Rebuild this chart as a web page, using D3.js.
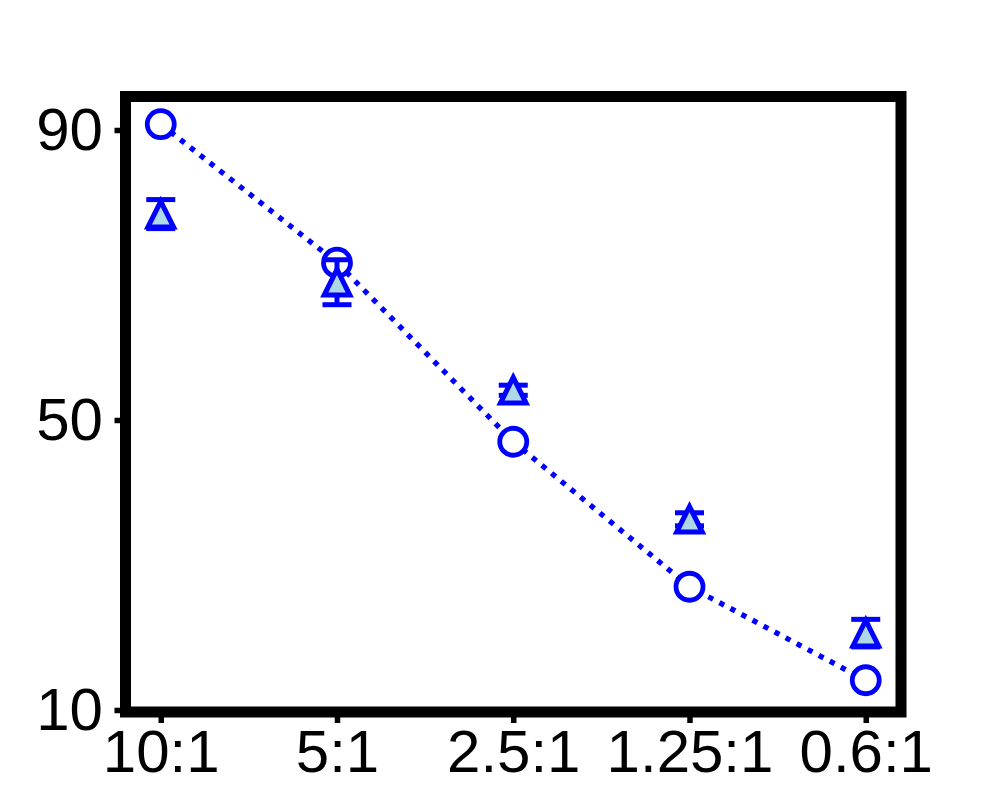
<!DOCTYPE html>
<html><head><meta charset="utf-8">
<script src="https://cdn.jsdelivr.net/npm/d3@7"></script>
<style>body{margin:0;background:#fff}</style>
</head><body>
<svg id="c" width="1000" height="800"></svg>
<script>
const categories = ["10:1", "5:1", "2.5:1", "1.25:1", "0.6:1"];
const circleValues = [90.8, 71.7, 47.0, 27.0, 14.1];
const triangleValues = [78.4, 69.0, 54.1, 36.3, 20.6];
const triangleErrors = [2.0, 3.1, 0.7, 0.9, 1.9];
const yTicks = [10, 50, 90];

const svg = d3.select("#c");
const L = 125.5, R = 901, T = 96.5, B = 712;
const x = d3.scalePoint().domain(categories).range([L, R]).padding(0.2);
const y = d3.scaleLinear().domain([9.72, 94.62]).range([B, T]);
const blue = "#0000ff";
const font = "'Liberation Sans', Arial, sans-serif";

// axes
const ya = svg.append("g").attr("transform", `translate(${L},0)`)
  .call(d3.axisLeft(y).tickValues(yTicks).tickSize(11).tickSizeOuter(0).tickPadding(11.5));
const xa = svg.append("g").attr("transform", `translate(0,${B})`)
  .call(d3.axisBottom(x).tickSize(11).tickSizeOuter(0).tickPadding(6.4));
[ya, xa].forEach(a => {
  a.select(".domain").remove();
  a.selectAll("line").attr("stroke", "#000").attr("stroke-width", 5.5);
  a.selectAll("text").attr("font-family", font).attr("font-size", 60).attr("fill", "#000");
});

// frame
svg.append("rect").attr("x", L).attr("y", T).attr("width", R - L).attr("height", B - T)
  .attr("fill", "none").attr("stroke", "#000").attr("stroke-width", 11);

// dotted line
svg.append("path")
  .attr("d", d3.line().x((d, i) => x(categories[i])).y(d => y(d))(circleValues))
  .attr("fill", "none").attr("stroke", blue).attr("stroke-width", 5.3)
  .attr("stroke-dasharray", "5.3,7.2").attr("stroke-linecap", "butt");

// circles
svg.append("g").selectAll("circle").data(circleValues).join("circle")
  .attr("cx", (d, i) => x(categories[i])).attr("cy", d => y(d)).attr("r", 13.5)
  .attr("fill", "#fff").attr("stroke", blue).attr("stroke-width", 4.8);

// error bars
const eb = svg.append("g").attr("stroke", blue).attr("stroke-width", 5);
triangleValues.forEach((v, i) => {
  const cx = x(categories[i]), e = triangleErrors[i];
  eb.append("line").attr("x1", cx).attr("x2", cx).attr("y1", y(v + e)).attr("y2", y(v - e));
  eb.append("line").attr("x1", cx - 14.5).attr("x2", cx + 14.5).attr("y1", y(v + e)).attr("y2", y(v + e));
  eb.append("line").attr("x1", cx - 14.5).attr("x2", cx + 14.5).attr("y1", y(v - e)).attr("y2", y(v - e));
});

// triangles
const h = 12.8;
svg.append("g").selectAll("path").data(triangleValues).join("path")
  .attr("transform", (d, i) => `translate(${x(categories[i])},${y(d)})`)
  .attr("d", `M0,${-h}L${-h},${h}L${h},${h}Z`)
  .attr("fill", "#add8e6").attr("stroke", blue).attr("stroke-width", 5)
  .attr("stroke-linejoin", "miter");
</script>
</body></html>
